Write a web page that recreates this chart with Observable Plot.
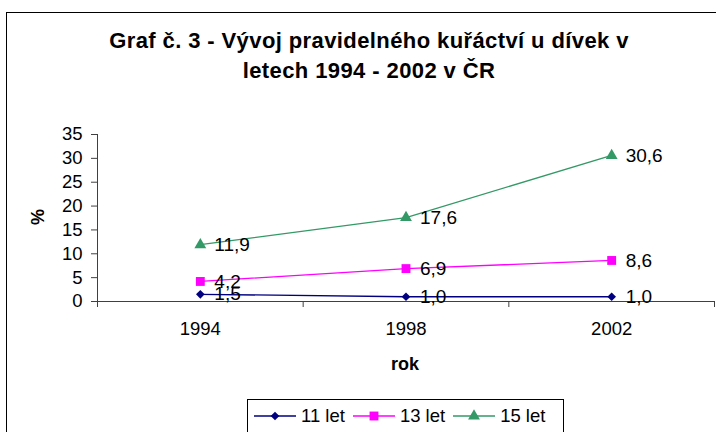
<!DOCTYPE html>
<html>
<head>
<meta charset="utf-8">
<script src="https://cdn.jsdelivr.net/npm/d3@7"></script>
<script src="https://cdn.jsdelivr.net/npm/@observablehq/plot@0.6"></script>
<style>
  body { margin: 0; background: #fff; }
  #wrap { position: relative; width: 716px; height: 432px; overflow: hidden; font-family: "Liberation Sans", Arial, sans-serif; color: #000; }
  #chart { position: absolute; left: 0; top: 0; }
  #border { position: absolute; left: 6px; top: 12px; width: 800px; height: 500px; border: 1px solid #000; box-sizing: border-box; pointer-events: none; }
  #title { position: absolute; left: 0; top: 26px; width: 738px; text-align: center; font-weight: bold; font-size: 22px; letter-spacing: 0.4px; line-height: 30px; }
  #ylabel { position: absolute; left: 38px; top: 217px; transform: translate(-50%, -50%) rotate(-90deg); font-weight: bold; font-size: 18px; white-space: nowrap; }
  #xlabel { position: absolute; left: 405px; top: 364px; transform: translate(-50%, -50%); font-weight: bold; font-size: 18px; }
  #legend { position: absolute; left: 247px; top: 399px; width: 317px; height: 60px; border: 1px solid #000; box-sizing: border-box; display: flex; align-items: flex-start; padding: 5px 0 0 6px; font-size: 18.5px; }
  .item { display: flex; align-items: center; margin-right: 8px; height: 22px; }
  .item svg { margin-right: 5px; }
</style>
</head>
<body>
<div id="wrap">
  <div id="chart"></div>
  <div id="title">Graf č. 3 - Vývoj pravidelného kuřáctví u dívek v<br>letech 1994 - 2002 v ČR</div>
  <div id="ylabel">%</div>
  <div id="xlabel">rok</div>
  <div id="legend"></div>
  <div id="border"></div>
</div>
<script>
// ---- data ----
const years = [1994, 1998, 2002];
const series = ["11 let", "13 let", "15 let"];
const values11 = [1.5, 1.0, 1.0];
const values13 = [4.2, 6.9, 8.6];
const values15 = [11.9, 17.6, 30.6];
const yTicks = [0, 5, 10, 15, 20, 25, 30, 35];
const xBoundaries = [1992, 1996, 2000, 2004];

// ---- styles ----
const colors = ["#000080", "#ff00ff", "#339966"];
const symbols = ["diamond2", "square", "triangle"];
const radii = [3.9, 5.0, 4.4];
const axisColor = "#404040";

const allValues = [values11, values13, values15];
const data = [];
series.forEach((s, i) => {
  years.forEach((y, j) => data.push({ series: s, year: y, value: allValues[i][j], idx: i }));
});
const fmt = v => v.toFixed(1).replace(".", ",");

const chart = Plot.plot({
  width: 716,
  height: 432,
  marginLeft: 97,
  marginRight: 2,
  marginTop: 134,
  marginBottom: 131,
  style: { fontFamily: "'Liberation Sans', Arial, sans-serif", fontSize: "18px", background: "transparent", color: "#000" },
  x: { domain: [xBoundaries[0], xBoundaries[xBoundaries.length - 1]] },
  y: { domain: [yTicks[0], yTicks[yTicks.length - 1]] },
  color: { domain: series, range: colors },
  symbol: { domain: series, range: symbols },
  r: { type: "identity" },
  marks: [
    Plot.axisY({ ticks: yTicks, tickSize: 6, tickPadding: 9, stroke: axisColor, label: null, fontSize: 18.5 }),
    Plot.axisX({ ticks: xBoundaries, tickSize: 6, tickFormat: () => "", stroke: axisColor, label: null }),
    Plot.axisX({ ticks: years, tickSize: 0, tickPadding: 20, tickFormat: d => String(d), label: null, fontSize: 18.5 }),
    Plot.ruleY([yTicks[0]], { stroke: axisColor }),
    Plot.ruleX([xBoundaries[0]], { stroke: axisColor }),
    Plot.line(data, { x: "year", y: "value", z: "series", stroke: "series", strokeWidth: 1.3 }),
    Plot.dot(data, { x: "year", y: "value", symbol: "series", fill: "series", stroke: "none", r: d => radii[d.idx] }),
    Plot.text(data, { x: "year", y: "value", text: d => fmt(d.value), dx: 14, textAnchor: "start", fontSize: 19, fill: "#000" })
  ]
});
document.getElementById("chart").appendChild(chart);

// ---- legend ----
const legend = document.getElementById("legend");
const symPaths = {
  diamond2: d3.symbol(d3.symbolDiamond2, Math.PI * radii[0] * radii[0])(),
  square: d3.symbol(d3.symbolSquare, Math.PI * radii[1] * radii[1])(),
  triangle: d3.symbol(d3.symbolTriangle, Math.PI * radii[2] * radii[2])()
};
series.forEach((s, i) => {
  const item = document.createElement("div");
  item.className = "item";
  item.innerHTML = `<svg width="42" height="14"><line x1="0" y1="7" x2="42" y2="7" stroke="${colors[i]}" stroke-width="1.3"/><path transform="translate(21,7)" d="${symPaths[symbols[i]]}" fill="${colors[i]}"/></svg><span>${s}</span>`;
  legend.appendChild(item);
});
</script>
</body>
</html>
